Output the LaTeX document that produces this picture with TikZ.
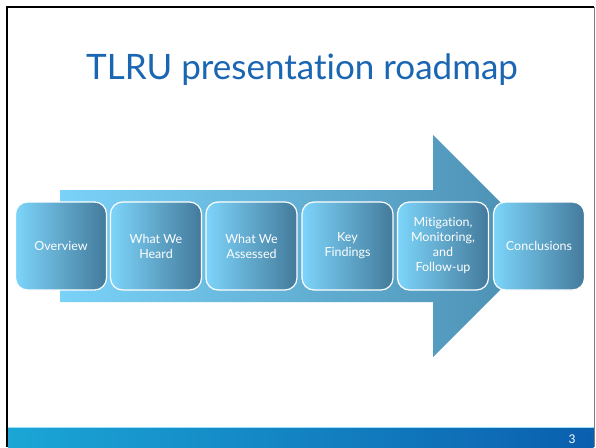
\documentclass[tikz,border=0pt]{standalone}
\usepackage{fontspec}
\setmainfont{Lato}[Ligatures=NoCommon]
\usetikzlibrary{shapes.misc}
\definecolor{titleblue}{HTML}{1A66B2}
\definecolor{lightc}{HTML}{7DD4FA}
\definecolor{darkc}{HTML}{437A9B}
\definecolor{arrowl}{HTML}{7AD2F8}
\definecolor{arrowr}{HTML}{4A8DB0}
\definecolor{barl}{HTML}{1BA6D6}
\definecolor{barr}{HTML}{0B5FAE}
\tikzset{
  stage/.style={draw=white, line width=1.2pt, rounded corners=12pt,
    minimum width=91pt, minimum height=88pt, left color=lightc, right color=darkc,
    text=white, align=center, font=\fontsize{12.5}{15}\selectfont, inner sep=1pt},
}
\begin{document}
\begin{tikzpicture}[x=1pt,y=-1pt]
\useasboundingbox (0,0) rectangle (596,447);
\fill[white] (0,0) rectangle (596,447);
% frame
\draw[black, line width=2pt] (7,447) -- (7,7) -- (594,7);
\draw[gray, line width=0.6pt] (594,7) -- (594,447);
% bottom bar
\shade[left color=barl, right color=barr] (8,427) rectangle (593.7,447);
\draw[cyan!40, line width=0.8pt] (8,427) -- (593.7,427);
\node[text=white, font=\fontsize{12}{14}\selectfont] (pg) at (572,439) {3};
% title
\node[text=titleblue, font=\fontsize{35}{42}\selectfont] (title) at (302,70) {TLRU presentation roadmap};
% arrow
\shade[left color=arrowl, right color=arrowr] (60,190) -- (433,190) -- (433,135) -- (544,246) -- (433,357) -- (433,302) -- (60,302) -- cycle;
% stages
\node[stage] (s1) at (61,246) {Overview};
\node[stage] (s2) at (156,246) {What We\\Heard};
\node[stage] (s3) at (251.5,246) {What We\\Assessed};
\node[stage] (s4) at (347.5,246) {Key\\Findings};
\node[stage] (s5) at (443,246) {Mitigation,\\Monitoring,\\and\\Follow-up};
\node[stage] (s6) at (539,246) {Conclusions};
\end{tikzpicture}
\end{document}
